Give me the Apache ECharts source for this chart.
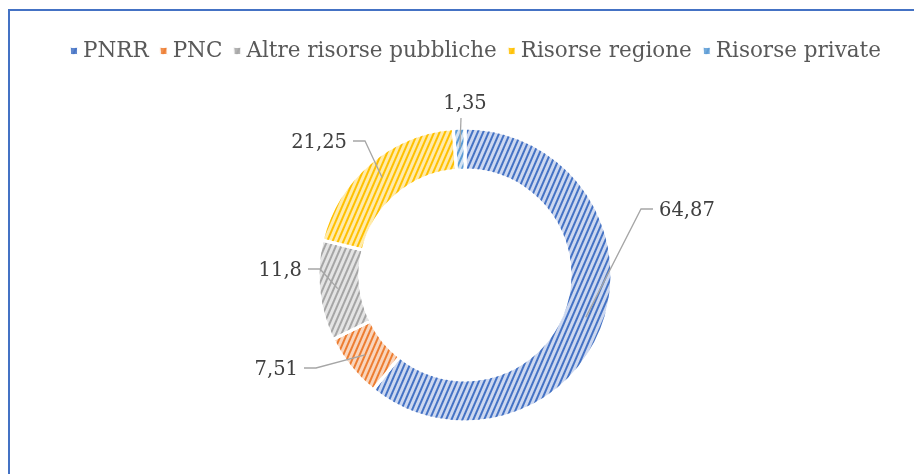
<!DOCTYPE html>
<html>
<head>
<meta charset="utf-8">
<script src="https://cdn.jsdelivr.net/npm/echarts@6/dist/echarts.min.js"></script>
<style>
  html, body { margin: 0; padding: 0; background: #fff; }
  #frame { position: absolute; left: 8px; top: 9px; width: 1000px; height: 1000px;
           border-left: 2px solid #4472C4; border-top: 2px solid #4472C4; }
  #main { position: absolute; left: 0; top: 0; width: 914px; height: 474px; }
</style>
</head>
<body>
<div id="frame"></div>
<div id="main"></div>
<script>
// dati del grafico
var categorie = ['PNRR', 'PNC', 'Altre risorse pubbliche', 'Risorse regione', 'Risorse private'];
var valori = [64.87, 7.51, 11.8, 21.25, 1.35];
var coloriBase = ['#4472C4', '#ED7D31', '#A5A5A5', '#FFC000', '#5B9BD5'];
var coloriChiari = ['#cdd8f0', '#f9d5bc', '#e4e4e4', '#ffebab', '#d2e2f3'];

// centro e raggi della ciambella
var cx = 465, cy = 275, rIn = 105, rOut = 147;
// piega della linea e lato dell'etichetta (stile Excel), relativi al centro
var pieghe = [[176, -66], [-149, 93], [-145, -6], [-100, -134], [-4, -157]];
var lati = ['right', 'left', 'left', 'left', 'top'];

var totale = valori.reduce(function (a, b) { return a + b; }, 0);
function puntoMedio(i, r) {
    var prima = 0;
    for (var k = 0; k < i; k++) prima += valori[k];
    var ang = (prima + valori[i] / 2) / totale * Math.PI * 2; // orario dall'alto
    return [cx + Math.sin(ang) * r, cy - Math.cos(ang) * r];
}

var myChart = echarts.init(document.getElementById('main'));

var fette = categorie.map(function (nome, i) {
    return {
        name: nome,
        value: valori[i],
        itemStyle: {
            color: coloriChiari[i],
            decal: {
                symbol: 'rect',
                color: coloriBase[i],
                dashArrayX: [1, 0],
                dashArrayY: [1.2, 3],
                rotation: -Math.PI * 0.37
            }
        }
    };
});
// stessa ciambella, trasparente, solo per disegnare etichette e linee sopra le fette
var etichette = categorie.map(function (nome, i) {
    return { name: nome, value: valori[i] };
});

myChart.setOption({
    animation: false,
    textStyle: { fontFamily: 'DejaVu Serif' },
    legend: {
        top: 35,
        left: 64,
        icon: 'rect',
        itemWidth: 8,
        itemHeight: 8,
        itemGap: 10,
        textStyle: { fontSize: 21.5, color: '#595959', fontFamily: 'DejaVu Serif' },
        data: categorie.map(function (nome, i) {
            return { name: nome, itemStyle: { color: coloriBase[i], opacity: 0.85 } };
        })
    },
    series: [
        {
            name: 'Risorse',
            type: 'pie',
            center: [cx, cy],
            radius: [rIn, rOut],
            startAngle: 90,
            clockwise: true,
            itemStyle: { borderColor: '#fff', borderWidth: 3 },
            label: { show: false },
            labelLine: { show: false },
            data: fette
        },
        {
            name: 'Etichette',
            type: 'pie',
            z: 5,
            silent: true,
            center: [cx, cy],
            radius: [rIn, rOut],
            startAngle: 90,
            clockwise: true,
            avoidLabelOverlap: false,
            itemStyle: { color: 'rgba(0,0,0,0)', borderWidth: 0 },
            label: {
                show: true,
                position: 'outside',
                fontSize: 19.5,
                color: '#404040',
                fontFamily: 'DejaVu Serif',
                formatter: function (p) { return String(p.value).replace('.', ','); }
            },
            labelLine: {
                show: true,
                lineStyle: { color: '#a6a6a6', width: 1.3 }
            },
            labelLayout: function (p) {
                var i = p.dataIndex;
                var start = puntoMedio(i, (rIn + rOut) / 2 + 2);
                var bend = [cx + pieghe[i][0], cy + pieghe[i][1]];
                var lato = lati[i];
                if (lato === 'top') {
                    return {
                        x: cx, y: bend[1] - 4, align: 'center', verticalAlign: 'bottom',
                        labelLinePoints: [start, bend, bend]
                    };
                }
                var dir = lato === 'right' ? 1 : -1;
                var end = [bend[0] + dir * 12, bend[1]];
                return {
                    x: end[0] + dir * 6, y: end[1] + 2,
                    align: lato === 'right' ? 'left' : 'right', verticalAlign: 'middle',
                    labelLinePoints: [start, bend, end]
                };
            },
            data: etichette
        }
    ]
});
</script>
</body>
</html>
